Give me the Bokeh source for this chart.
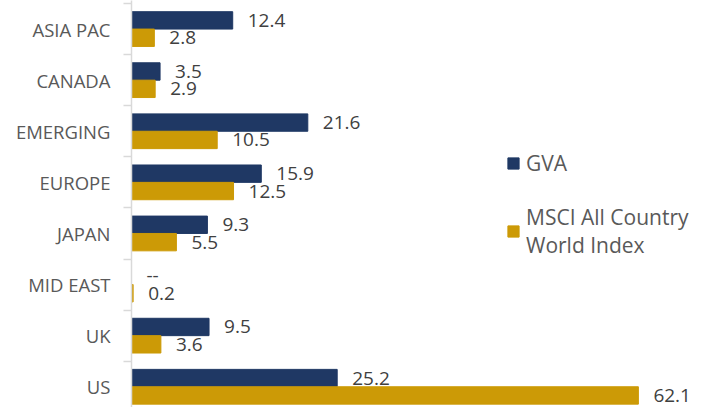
from bokeh.plotting import figure
from bokeh.models import ColumnDataSource, Range1d, FixedTicker, Legend, LegendItem
from bokeh.core.properties import value
from bokeh.embed import file_html
from bokeh.resources import INLINE

categories = ["ASIA PAC", "CANADA", "EMERGING", "EUROPE", "JAPAN", "MID EAST", "UK", "US"]
gva = [12.4, 3.5, 21.6, 15.9, 9.3, None, 9.5, 25.2]
msci = [2.8, 2.9, 10.5, 12.5, 5.5, 0.2, 3.6, 62.1]
series_names = ["GVA", "MSCI All Country\nWorld Index"]

NAVY = "#1F3864"
GOLD = "#CC9A06"
FONT = "Open Sans"

idx = list(range(len(categories)))
half = 0.17
gva_src = ColumnDataSource(dict(
    y=[i - half for i in idx],
    v=[0 if g is None else g for g in gva],
    lab=["--" if g is None else f"{g:.1f}" for g in gva],
))
msci_src = ColumnDataSource(dict(
    y=[i + half for i in idx],
    v=msci,
    lab=[f"{m:.1f}" for m in msci],
))

p = figure(width=704, height=407, output_backend="svg", toolbar_location=None,
           x_range=Range1d(0, 70.2), y_range=Range1d(7.406, -0.559),
           min_border_left=131, min_border_right=0, min_border_top=0, min_border_bottom=0,
           x_axis_location=None)
p.outline_line_color = None
p.grid.visible = False
p.background_fill_color = "white"

r1 = p.hbar(y="y", right="v", left=0, height=0.34, source=gva_src, color=NAVY)
r2 = p.hbar(y="y", right="v", left=0, height=0.34, source=msci_src, color=GOLD)

for src in (gva_src, msci_src):
    p.text(x="v", y="y", text="lab", source=src, x_offset=15, y_offset=0,
           text_baseline="middle", text_align="left", text_font=value(FONT),
           text_font_size="19px", text_color="#404040")

ax = p.yaxis[0]
ax.ticker = FixedTicker(ticks=idx, minor_ticks=[i - 0.5 for i in range(len(categories) + 1)])
ax.major_label_overrides = {i: c for i, c in enumerate(categories)}
ax.major_tick_out = 0
ax.major_tick_in = 0
ax.minor_tick_out = 8
ax.minor_tick_in = 0
ax.minor_tick_line_color = "#D9D9D9"
ax.minor_tick_line_width = 1.5
ax.axis_line_color = "#D9D9D9"
ax.axis_line_width = 1.5
ax.major_label_standoff = 13
ax.major_label_text_font = FONT
ax.major_label_text_font_size = "18.5px"
ax.major_label_text_color = "#595959"

legend = Legend(items=[LegendItem(label=series_names[0], renderers=[r1]),
                       LegendItem(label=series_names[1], renderers=[r2])],
                location=(375, 148), orientation="vertical",
                padding=0, margin=0, spacing=26,
                glyph_width=14, glyph_height=14, label_standoff=6,
                label_text_font=FONT, label_text_font_size="21px",
                label_text_line_height=1.33,
                label_text_color="#595959",
                border_line_alpha=0, background_fill_alpha=0)
p.add_layout(legend)

open("out.html", "w").write(file_html(p, INLINE))
